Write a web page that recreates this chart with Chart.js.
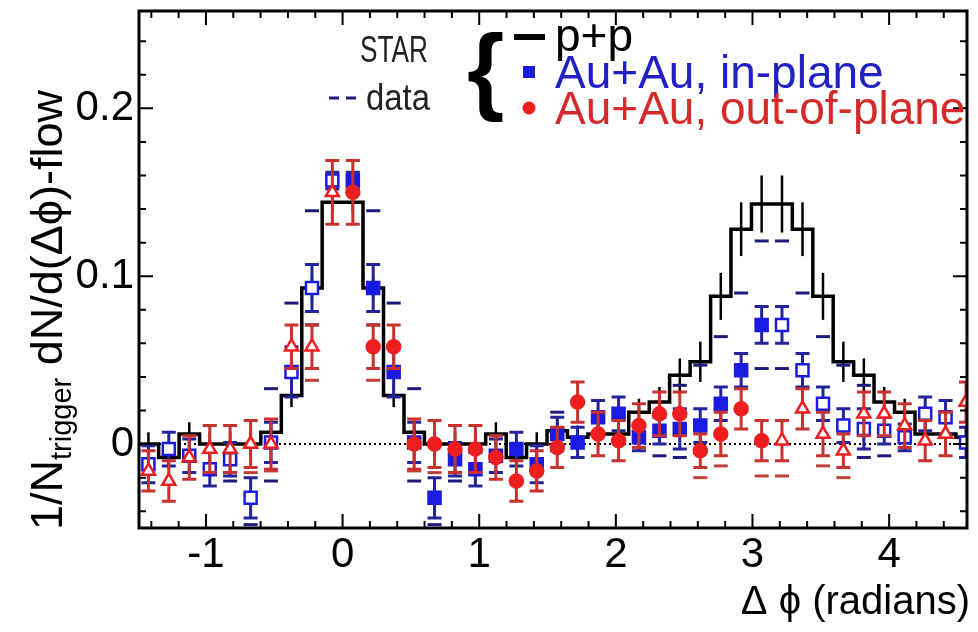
<!DOCTYPE html>
<html>
<head>
<meta charset="utf-8">
<script src="https://cdn.jsdelivr.net/npm/chart.js@4.4.1/dist/chart.umd.min.js"></script>
<style>
  html, body { margin: 0; padding: 0; background: #fff; }
  canvas { display: block; }
</style>
</head>
<body>
<canvas id="chart" width="978" height="632"></canvas>
<script>
/* === STAR — dihadron correlations, p+p vs Au+Au (in / out of plane) === */

// Bin centres in delta-phi (radians)
const binCenters = [
  -1.421, -1.272, -1.122, -0.972, -0.823, -0.673, -0.524, -0.374, -0.224, -0.075,
   0.075,  0.224,  0.374,  0.524,  0.673,  0.823,  0.972,  1.122,  1.272,  1.421,
   1.571,  1.720,  1.870,  2.020,  2.169,  2.319,  2.468,  2.618,  2.768,  2.917,
   3.067,  3.216,  3.366,  3.516,  3.665,  3.815,  3.964,  4.114,  4.264,  4.413,
   4.563
];

// p+p histogram
const ppYield = [
   0.000, -0.008,  0.006,  0.000,  0.000,  0.000,  0.007,  0.029,  0.093,  0.144,
   0.144,  0.093,  0.029,  0.007,  0.000,  0.000,  0.000,  0.006, -0.008,  0.000,
   0.008,  0.004,  0.006,  0.006,  0.019,  0.025,  0.041,  0.049,  0.088,  0.128,
   0.143,  0.143,  0.128,  0.088,  0.049,  0.041,  0.025,  0.019,  0.006,  0.006,
   0.004
];
const ppErr = [
  0.007, 0.007, 0.007, 0.007, 0.007, 0.007, 0.007, 0.007, 0.007, 0.006,
  0.006, 0.007, 0.007, 0.007, 0.007, 0.007, 0.007, 0.007, 0.007, 0.007,
  0.007, 0.007, 0.007, 0.007, 0.008, 0.009, 0.010, 0.012, 0.014, 0.016,
  0.017, 0.017, 0.016, 0.014, 0.012, 0.010, 0.009, 0.008, 0.007, 0.007,
  0.007
];

// Au+Au in-plane
const inPlane = [
  -0.012, -0.003, -0.007, -0.015, -0.009, -0.032,  0.001,  0.043,  0.093,  0.157,
   0.157,  0.093,  0.043,  0.001, -0.032, -0.009, -0.015, -0.007, -0.003, -0.012,
   0.006,  0.001,  0.016,  0.018,  0.004,  0.008,  0.009,  0.011,  0.024,  0.044,
   0.071,  0.071,  0.044,  0.024,  0.011,  0.009,  0.008,  0.004,  0.018,  0.016,
   0.001
];
const inPlaneErr = [
  0.011, 0.010, 0.010, 0.010, 0.010, 0.012, 0.012, 0.015, 0.014, 0.005,
  0.005, 0.014, 0.015, 0.012, 0.012, 0.010, 0.010, 0.010, 0.010, 0.011,
  0.010, 0.009, 0.010, 0.010, 0.008, 0.008, 0.012, 0.010, 0.010, 0.010,
  0.011, 0.011, 0.010, 0.010, 0.010, 0.012, 0.008, 0.008, 0.010, 0.010,
  0.009
];

// Au+Au out-of-plane
const outPlane = [
  -0.016, -0.022, -0.008, -0.003, -0.003,  0.000,  0.000,  0.058,  0.058,  0.150,
   0.150,  0.058,  0.058,  0.000,  0.000, -0.003, -0.003, -0.008, -0.022, -0.016,
  -0.002,  0.025,  0.006,  0.002,  0.011,  0.018,  0.018, -0.004,  0.006,  0.021,
   0.002,  0.002,  0.021,  0.006, -0.004,  0.018,  0.018,  0.011,  0.002,  0.006,
   0.025
];
const outPlaneErr = [
  0.012, 0.012, 0.013, 0.014, 0.014, 0.014, 0.015, 0.013, 0.013, 0.019,
  0.019, 0.013, 0.013, 0.015, 0.014, 0.014, 0.014, 0.013, 0.012, 0.012,
  0.012, 0.012, 0.013, 0.012, 0.013, 0.013, 0.013, 0.010, 0.013, 0.012,
  0.012, 0.012, 0.012, 0.013, 0.010, 0.013, 0.013, 0.013, 0.012, 0.013,
  0.012
];

// Flow systematics (dashes)
const inPlaneSysHi = [
  null, null, null, null, null, null, 0.033, 0.084, 0.139, null,
  null, 0.139, 0.084, 0.033, null, null, null, null, null, null,
  0.019, null, null, null, null, null, 0.035, 0.047, 0.064, 0.090,
  0.121, 0.121, 0.090, 0.064, 0.047, 0.035, null, null, null, null,
  null
];
const inPlaneSysLo = [
  null, null, null, null, -0.022, -0.048, -0.022, null, 0.071, null,
  null, 0.071, null, -0.022, -0.048, -0.022, null, null, null, null,
  null, null, null, null, null, -0.007, -0.008, null, null, null,
  0.045, 0.045, null, null, null, -0.008, -0.007, null, null, null,
  null
];
const outPlaneSysLo = [
  null, null, null, null, -0.017, -0.017, -0.016, null, 0.038, null,
  null, 0.038, null, -0.016, -0.017, -0.017, null, null, null, null,
  null, null, null, null, null, null, null, -0.020, -0.013, null,
  -0.019, -0.019, null, -0.013, -0.020, null, null, null, null, null,
  null
];

const X_MIN = -1.49, X_MAX = 4.57;
const Y_MIN = -0.05, Y_MAX = 0.258;

const FONT = '"Liberation Sans", Arial, Helvetica, sans-serif';
const BLUE = '#1a1ae0', BLUE_BAR = '#24249a', BLUE_DASH = '#1c1c7a';
const RED = '#ee1e1e', RED_BAR = '#c8322e', RED_DASH = '#c0403a';

// filled markers between 0 and pi, open (reflected) elsewhere
const filled = binCenters.map(x => x > 0 && x < Math.PI);
const binW = binCenters[1] - binCenters[0];

// step histogram: left edges + closing right edge
const ppStep = binCenters.map((c, i) => ({ x: c - binW / 2, y: ppYield[i] }));
ppStep.push({ x: binCenters[binCenters.length - 1] + binW / 2, y: ppYield[ppYield.length - 1] });

// === Drawing helpers ===
function clipToArea(ctx, a) {
  ctx.save();
  ctx.beginPath();
  ctx.rect(a.left, a.top, a.right - a.left, a.bottom - a.top);
  ctx.clip();
}

function drawErrorBars(chart, values, errors, color, cap, width) {
  const { ctx, chartArea, scales: { x, y } } = chart;
  clipToArea(ctx, chartArea);
  ctx.strokeStyle = color;
  ctx.lineWidth = width;
  ctx.lineCap = 'butt';
  values.forEach((v, i) => {
    const px = x.getPixelForValue(binCenters[i]);
    const top = y.getPixelForValue(v + errors[i]);
    const bot = y.getPixelForValue(v - errors[i]);
    ctx.beginPath();
    ctx.moveTo(px, top);
    ctx.lineTo(px, bot);
    if (cap) {
      ctx.moveTo(px - cap, top); ctx.lineTo(px + cap, top);
      ctx.moveTo(px - cap, bot); ctx.lineTo(px + cap, bot);
    }
    ctx.stroke();
  });
  ctx.restore();
}

function drawDashes(chart, levels, color) {
  const { ctx, chartArea, scales: { x, y } } = chart;
  clipToArea(ctx, chartArea);
  ctx.strokeStyle = color;
  ctx.lineWidth = 3;
  levels.forEach((v, i) => {
    if (v === null) return;
    const px = x.getPixelForValue(binCenters[i]);
    const py = y.getPixelForValue(v);
    ctx.beginPath();
    ctx.moveTo(px - 7, py);
    ctx.lineTo(px + 7, py);
    ctx.stroke();
  });
  ctx.restore();
}

function drawFrame(chart) {
  const { ctx, chartArea: a, scales: { x, y } } = chart;
  ctx.save();
  ctx.strokeStyle = '#000';
  ctx.lineWidth = 2;
  ctx.beginPath();
  for (let n = -8; n <= 23; n++) {
    const v = n / 5;
    if (v <= X_MIN || v >= X_MAX) continue;
    const px = x.getPixelForValue(v);
    const len = n % 5 === 0 ? 14 : 7;
    ctx.moveTo(px, a.bottom); ctx.lineTo(px, a.bottom - len);
    ctx.moveTo(px, a.top); ctx.lineTo(px, a.top + len);
  }
  for (let n = -2; n <= 12; n++) {
    const v = n / 50;
    if (v <= Y_MIN || v >= Y_MAX) continue;
    const py = y.getPixelForValue(v);
    const len = n % 5 === 0 ? 14 : 7;
    ctx.moveTo(a.left, py); ctx.lineTo(a.left + len, py);
    ctx.moveTo(a.right, py); ctx.lineTo(a.right - len, py);
  }
  ctx.stroke();
  ctx.lineWidth = 3;
  ctx.strokeRect(a.left, a.top, a.right - a.left, a.bottom - a.top);
  ctx.restore();
}

// text squeezed horizontally to a given width
function fillTextWidth(ctx, text, x, y, width) {
  const w = ctx.measureText(text).width;
  ctx.save();
  ctx.translate(x, y);
  ctx.scale(width / w, 1);
  ctx.fillText(text, 0, 0);
  ctx.restore();
}

function drawTexts(chart) {
  const ctx = chart.ctx;
  ctx.save();
  ctx.textBaseline = 'alphabetic';

  // x title
  ctx.fillStyle = '#000';
  ctx.textAlign = 'right';
  ctx.font = '40px ' + FONT;
  ctx.fillText('\u0394 \u03d5 (radians)', 970, 614);

  // y title, rotated, with subscript
  ctx.save();
  ctx.translate(62, 530);
  ctx.rotate(-Math.PI / 2);
  ctx.textAlign = 'left';
  let cx = 0;
  ctx.font = '45px ' + FONT;
  ctx.fillText('1/N', cx, 0);
  cx += ctx.measureText('1/N').width;
  ctx.font = '29px ' + FONT;
  ctx.fillText('trigger', cx, 9);
  cx += ctx.measureText('trigger').width;
  ctx.font = '45px ' + FONT;
  ctx.fillText(' dN/d(\u0394\u03d5)-flow', cx, 0);
  ctx.restore();

  // legend block
  ctx.textAlign = 'left';
  ctx.fillStyle = '#222';
  ctx.font = '36px ' + FONT;
  fillTextWidth(ctx, 'STAR', 360, 62, 68);
  fillTextWidth(ctx, 'data', 366, 110, 64);

  ctx.strokeStyle = BLUE_DASH;
  ctx.lineWidth = 3;
  ctx.beginPath();
  ctx.moveTo(329, 98); ctx.lineTo(339, 98);
  ctx.moveTo(346, 98); ctx.lineTo(356, 98);
  ctx.stroke();

  ctx.fillStyle = '#000';
  ctx.font = 'bold 96px ' + FONT;
  ctx.fillText('{', 467, 102);

  ctx.fillRect(514, 34, 31, 6);
  ctx.font = '46px ' + FONT;
  ctx.fillText('p+p', 555, 51);

  ctx.fillStyle = BLUE;
  ctx.fillRect(523, 66, 12, 12);
  ctx.fillStyle = '#2020c4';
  ctx.fillText('Au+Au, in-plane', 555, 88);

  ctx.fillStyle = RED;
  ctx.beginPath();
  ctx.arc(529, 108, 6.5, 0, Math.PI * 2);
  ctx.fill();
  ctx.fillStyle = '#d42a2a';
  ctx.fillText('Au+Au, out-of-plane', 555, 124);

  ctx.restore();
}

const starPlugin = {
  id: 'starPlot',
  beforeDatasetsDraw(chart) {
    const { ctx, chartArea: a, scales: { y } } = chart;
    const py = y.getPixelForValue(0);
    ctx.save();
    ctx.strokeStyle = '#000';
    ctx.lineWidth = 2;
    ctx.setLineDash([2, 3]);
    ctx.beginPath();
    ctx.moveTo(a.left, py);
    ctx.lineTo(a.right, py);
    ctx.stroke();
    ctx.restore();
  },
  beforeDatasetDraw(chart, args) {
    if (args.index === 0) {
      drawErrorBars(chart, ppYield, ppErr, '#000', 0, 2.5);
    } else if (args.index === 1) {
      drawDashes(chart, inPlaneSysHi, BLUE_DASH);
      drawDashes(chart, inPlaneSysLo, BLUE_DASH);
      drawErrorBars(chart, inPlane, inPlaneErr, BLUE_BAR, 7, 3);
    } else if (args.index === 2) {
      drawDashes(chart, outPlaneSysLo, RED_DASH);
      drawErrorBars(chart, outPlane, outPlaneErr, RED_BAR, 7, 3);
    }
  },
  afterDraw(chart) {
    drawFrame(chart);
    drawTexts(chart);
  }
};

// === Chart ===
new Chart(document.getElementById('chart'), {
  type: 'line',
  data: {
    datasets: [
      {
        label: 'p+p',
        data: ppStep,
        stepped: 'before',
        borderColor: '#000',
        borderWidth: 3.5,
        borderJoinStyle: 'miter',
        pointRadius: 0,
        fill: false,
        clip: 0,
        order: 3
      },
      {
        label: 'Au+Au, in-plane',
        data: binCenters.map((x, i) => ({ x: x, y: inPlane[i] })),
        showLine: false,
        pointStyle: 'rect',
        pointRadius: 8.5,
        pointBorderWidth: 2.5,
        pointBorderColor: BLUE,
        pointBackgroundColor: filled.map(f => f ? BLUE : '#fff'),
        clip: 0,
        order: 2
      },
      {
        label: 'Au+Au, out-of-plane',
        data: binCenters.map((x, i) => ({ x: x, y: outPlane[i] })),
        showLine: false,
        pointStyle: filled.map(f => f ? 'circle' : 'triangle'),
        pointRadius: filled.map(f => f ? 6.5 : 7.5),
        pointBorderWidth: 2.5,
        pointBorderColor: RED,
        pointBackgroundColor: filled.map(f => f ? RED : '#fff'),
        clip: 0,
        order: 1
      }
    ]
  },
  options: {
    responsive: false,
    animation: false,
    devicePixelRatio: 1,
    events: [],
    layout: { padding: { top: 3, right: 3, left: 0, bottom: 0 } },
    plugins: { legend: { display: false }, tooltip: { enabled: false } },
    scales: {
      x: {
        type: 'linear',
        min: X_MIN,
        max: X_MAX,
        grid: { display: false, drawTicks: false },
        border: { display: false },
        ticks: {
          stepSize: 1,
          includeBounds: false,
          autoSkip: false,
          maxRotation: 0,
          padding: 2,
          color: '#000',
          font: { family: FONT, size: 42 },
          callback: v => String(v)
        },
        afterFit: s => { s.height = 104; s.paddingLeft = 0; s.paddingRight = 0; }
      },
      y: {
        type: 'linear',
        min: Y_MIN,
        max: Y_MAX,
        grid: { display: false, drawTicks: false },
        border: { display: false },
        ticks: {
          stepSize: 0.1,
          includeBounds: false,
          autoSkip: false,
          padding: 5,
          color: '#000',
          font: { family: FONT, size: 42 },
          callback: v => String(Math.round(v * 10) / 10)
        },
        afterFit: s => { s.width = 139; s.paddingTop = 0; s.paddingBottom = 0; }
      }
    }
  },
  plugins: [starPlugin]
});
</script>
</body>
</html>
